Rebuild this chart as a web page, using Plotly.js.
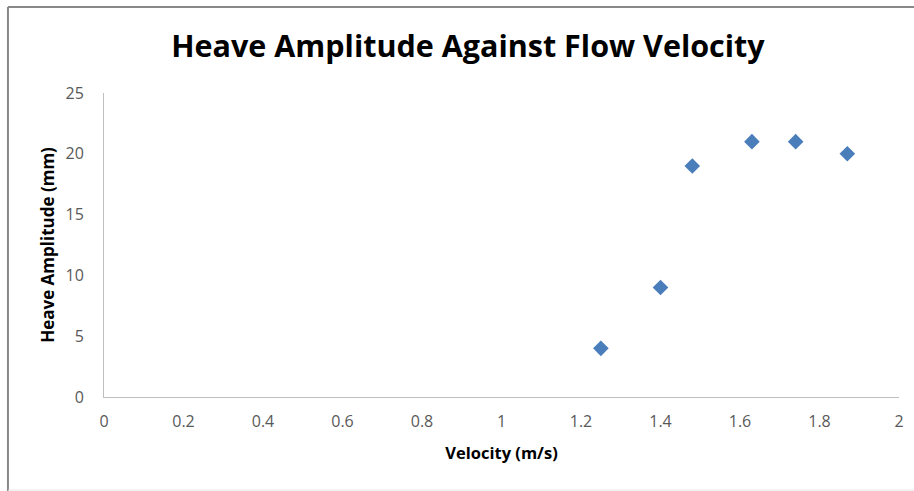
<!DOCTYPE html>
<html><head><meta charset="utf-8">
<script src="https://cdn.plot.ly/plotly-3.0.1.min.js"></script>
<style>html,body{margin:0;padding:0;background:#fff}#chart{width:914px;height:491px}</style>
</head><body><div id="chart"></div>
<script>
const velocity = [1.25, 1.4, 1.48, 1.63, 1.74, 1.87];
const heaveAmplitude = [4, 9, 19, 21, 21, 20];
const xTicks = [0, 0.2, 0.4, 0.6, 0.8, 1, 1.2, 1.4, 1.6, 1.8, 2];
const yTicks = [0, 5, 10, 15, 20, 25];

const trace = {
  x: velocity, y: heaveAmplitude, type: 'scatter', mode: 'markers',
  marker: {symbol: 'diamond', size: 12, color: '#4A7EBB'}, hoverinfo: 'none'
};
const axisFont = {family: 'Open Sans, sans-serif', size: 16, color: '#595959'};
const layout = {
  width: 914, height: 491,
  margin: {l: 104, r: 15, t: 93, b: 94},
  paper_bgcolor: '#fff', plot_bgcolor: '#fff',
  showlegend: false,
  title: {text: 'Heave Amplitude Against Flow Velocity', x: 0.512, xanchor: 'center', y: 0.905, yanchor: 'middle',
          font: {family: 'Open Sans, sans-serif', size: 30.5, color: '#000', weight: 700}},
  xaxis: {range: [0, 2], tickvals: xTicks, ticktext: xTicks.map(String), showgrid: false, zeroline: false,
          showline: true, linecolor: '#BFBFBF', linewidth: 1, ticks: '', tickfont: axisFont, ticklabelstandoff: 10,
          title: {text: 'Velocity (m/s)', standoff: 16, font: {family: 'Open Sans, sans-serif', size: 16.5, color: '#000', weight: 700}}},
  yaxis: {range: [0, 25], tickvals: yTicks, showgrid: false, zeroline: false,
          showline: true, linecolor: '#BFBFBF', linewidth: 1, ticks: '', tickfont: axisFont, ticklabelstandoff: 16,
          title: {text: 'Heave Amplitude (mm)', standoff: 6, font: {family: 'Open Sans, sans-serif', size: 17, color: '#000', weight: 700}}},
  shapes: [
    {type: 'line', xref: 'paper', yref: 'paper', x0: -0.1208, x1: 1.03, y0: 1.283, y1: 1.283, line: {color: '#888', width: 2}},
    {type: 'line', xref: 'paper', yref: 'paper', x0: -0.1208, x1: -0.1208, y0: 1.283, y1: -0.31, line: {color: '#888', width: 2}},
    {type: 'line', xref: 'paper', yref: 'paper', x0: -0.1208, x1: 1.03, y0: -0.306, y1: -0.306, line: {color: '#E6E6E6', width: 1}}
  ]
};
Plotly.newPlot('chart', [trace], layout, {displayModeBar: false, staticPlot: true});
</script></body></html>
